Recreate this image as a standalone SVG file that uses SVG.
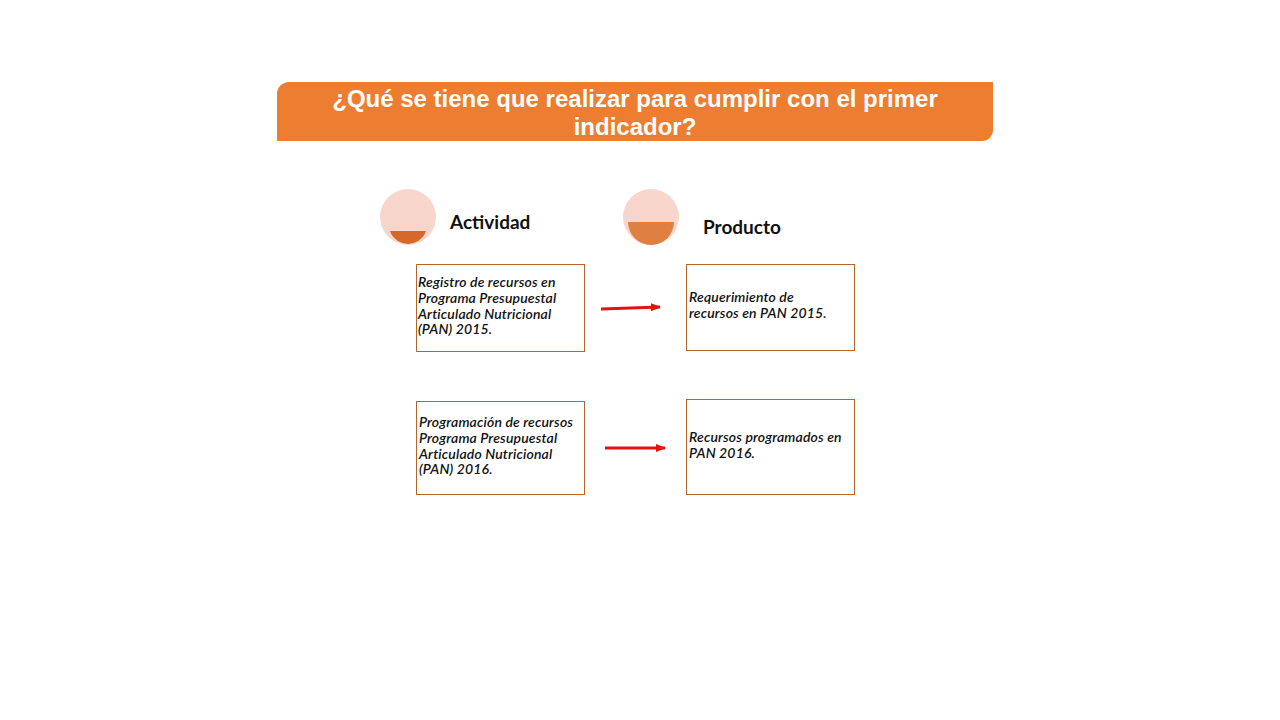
<svg xmlns="http://www.w3.org/2000/svg" width="1280" height="720" viewBox="0 0 1280 720">
<defs>
<style>
.box{fill:#ffffff;stroke:#b5652a;stroke-width:1}
.bt{font-family:Lato,"Open Sans","Liberation Sans",sans-serif;font-style:italic;font-weight:600;font-size:14px;letter-spacing:0.15px;fill:#111}
.lbl{font-family:Lato,"Open Sans","Liberation Sans",sans-serif;font-weight:700;font-size:19px;fill:#111}
.title{font-family:"Liberation Sans",Arial,sans-serif;font-weight:700;font-size:24px;fill:#ffffff}
.arr{stroke:#e81010;stroke-width:3;fill:none}
</style>
<marker id="ah" markerWidth="10" markerHeight="8" refX="9" refY="4" orient="auto" markerUnits="userSpaceOnUse">
<path d="M0,0 L10,4 L0,8 Z" fill="#e81010"/>
</marker>
</defs>
<rect width="1280" height="720" fill="#ffffff"/>
<g id="title">
<path d="M289,82 H993 V130 A11,11 0 0 1 982,141 H277 V94 A12,12 0 0 1 289,82 Z" fill="#ed7d31"/>
<text class="title" x="635" y="107" text-anchor="middle">¿Qué se tiene que realizar para cumplir con el primer</text>
<text class="title" x="635" y="135" text-anchor="middle">indicador?</text>
</g>
<g id="actividad-header">
<circle cx="408" cy="217" r="28" fill="#f8d6cb"/>
<path d="M390,231 H426 A19,19 0 0 1 390,231 Z" fill="#d5692a"/>
<text class="lbl" x="450" y="229">Actividad</text>
</g>
<g id="producto-header">
<circle cx="651" cy="217" r="28" fill="#f8d6cb"/>
<path d="M628,222 H674 A23,23 0 0 1 628,222 Z" fill="#e07f42"/>
<text class="lbl" x="703" y="234">Producto</text>
</g>
<g id="act1">
<rect class="box" x="416.5" y="264.5" width="168" height="87"/>
<text class="bt" x="418" y="287">Registro de recursos en</text>
<text class="bt" x="418" y="303">Programa Presupuestal</text>
<text class="bt" x="418" y="319">Articulado Nutricional</text>
<text class="bt" x="418" y="334">(PAN) 2015.</text>
</g>
<g id="prod1">
<rect class="box" x="686.5" y="264.5" width="168" height="86"/>
<text class="bt" x="689" y="302">Requerimiento de</text>
<text class="bt" x="689" y="318">recursos en PAN 2015.</text>
</g>
<g id="act2">
<rect class="box" x="416.5" y="401.5" width="168" height="93"/>
<text class="bt" x="419" y="427">Programación de recursos</text>
<text class="bt" x="419" y="443">Programa Presupuestal</text>
<text class="bt" x="419" y="459">Articulado Nutricional</text>
<text class="bt" x="419" y="474">(PAN) 2016.</text>
</g>
<g id="prod2">
<rect class="box" x="686.5" y="399.5" width="168" height="95"/>
<text class="bt" x="689" y="442">Recursos programados en</text>
<text class="bt" x="689" y="458">PAN 2016.</text>
</g>
<g id="connectors">
<line class="arr" x1="601" y1="309" x2="660" y2="307" marker-end="url(#ah)"/>
<line class="arr" x1="605" y1="448" x2="665" y2="448" marker-end="url(#ah)"/>
</g>
</svg>
